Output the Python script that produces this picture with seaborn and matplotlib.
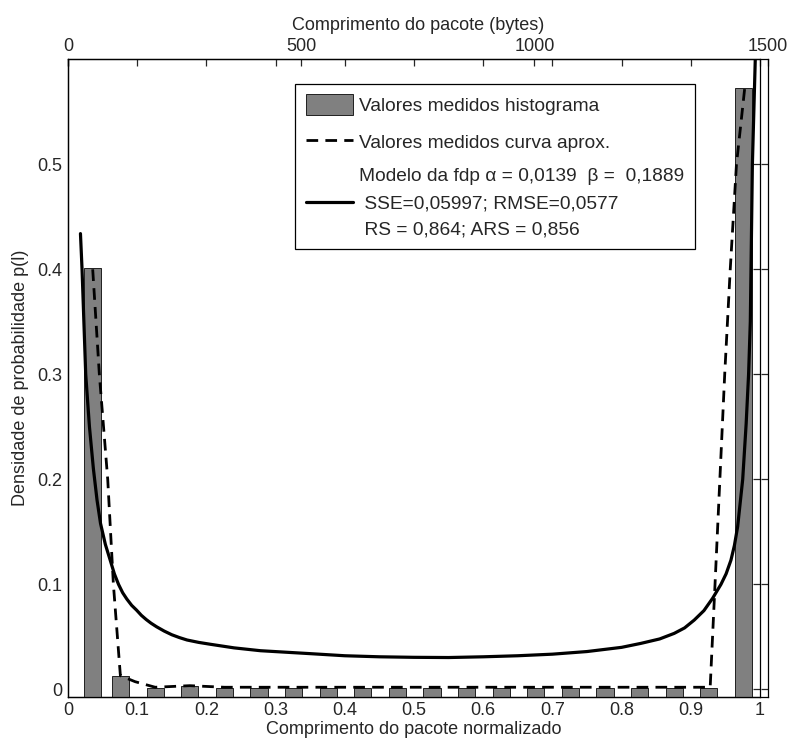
import numpy as np
import matplotlib
matplotlib.use('Agg')
import matplotlib.pyplot as plt
import seaborn as sns
from matplotlib.patches import Patch
from matplotlib.lines import Line2D

###############################################################################
# Data
###############################################################################
BAR_X = [0.035, 0.076, 0.126, 0.176, 0.226, 0.276, 0.326, 0.376, 0.426,
         0.476, 0.526, 0.576, 0.626, 0.676, 0.726, 0.776, 0.826, 0.876,
         0.926, 0.976]
BAR_H = [0.401, 0.013, 0.0015, 0.0035, 0.0015, 0.0015, 0.0015, 0.0015,
         0.0015, 0.0015, 0.0015, 0.0015, 0.0015, 0.0015, 0.0015, 0.0015,
         0.0015, 0.0015, 0.0015, 0.573]
# measured curve (dashed)
CRV_X = [0.0357, 0.0453, 0.0574, 0.0656, 0.0714, 0.0757, 0.097, 0.126,
         0.176, 0.226, 0.276, 0.326, 0.376, 0.426, 0.476, 0.526, 0.576,
         0.626, 0.676, 0.726, 0.776, 0.826, 0.876, 0.928, 0.935, 0.942,
         0.949, 0.957, 0.966, 0.978]
CRV_Y = [0.400, 0.300, 0.200, 0.100, 0.050, 0.013, 0.0073, 0.002,
         0.0035, 0.002, 0.002, 0.002, 0.002, 0.002, 0.002, 0.002, 0.002,
         0.002, 0.002, 0.002, 0.002, 0.002, 0.002, 0.002, 0.100, 0.200,
         0.300, 0.400, 0.500, 0.573]
# model pdf (solid)
MOD_X = [0.018, 0.0203, 0.0256, 0.031, 0.0367, 0.042, 0.047, 0.054, 0.061,
         0.067, 0.073, 0.079, 0.085, 0.092, 0.099, 0.106, 0.113, 0.120,
         0.128, 0.139, 0.150, 0.161, 0.172, 0.189, 0.206, 0.240,
         0.278, 0.35, 0.40, 0.45, 0.50, 0.55, 0.60, 0.65, 0.70, 0.75, 0.80,
         0.828, 0.855, 0.876, 0.891, 0.905, 0.919, 0.9315, 0.9436, 0.951,
         0.958, 0.963, 0.9677, 0.975, 0.980, 0.9835, 0.986, 0.989, 0.994]
MOD_Y = [0.434, 0.400, 0.300, 0.250, 0.210, 0.180, 0.158, 0.138, 0.123,
         0.110, 0.100, 0.092, 0.086, 0.080, 0.0755, 0.0705, 0.0665, 0.063,
         0.0596, 0.0555, 0.052, 0.0493, 0.047, 0.0447, 0.0429, 0.0395,
         0.0368, 0.034, 0.032, 0.031, 0.0305, 0.0303, 0.031, 0.032, 0.0335,
         0.036, 0.040, 0.0438, 0.048, 0.0533, 0.0585, 0.066, 0.075, 0.0867,
         0.100, 0.110, 0.123, 0.137, 0.155, 0.200, 0.253, 0.300, 0.350,
         0.500, 0.620]

X_TICKS = [0, 0.1, 0.2, 0.3, 0.4, 0.5, 0.6, 0.7, 0.8, 0.9, 1]
X_TLBL = ['0', '0.1', '0.2', '0.3', '0.4', '0.5', '0.6', '0.7', '0.8', '0.9', '1']
Y_TICKS = [0, 0.1, 0.2, 0.3, 0.4, 0.5]
Y_TLBL = ['0', '0.1', '0.2', '0.3', '0.4', '0.5']
B_TICKS = [0, 500, 1000, 1500]
LBL_HIST = 'Valores medidos histograma'
LBL_CRV = 'Valores medidos curva aprox.'
LBL_MOD = ('Modelo da fdp \u03b1 = 0,0139  \u03b2 =  0,1889\n'
           ' SSE=0,05997; RMSE=0,0577\n RS = 0,864; ARS = 0,856')
(YMIN, YMAX) = (-0.007, 0.6)
###############################################################################
# Style
###############################################################################
sns.set_style('white')
plt.rcParams['font.family'] = ['Liberation Sans', 'DejaVu Sans']
plt.rcParams['axes.linewidth'] = 0.9
FS = 13
FS_LEG = 13.8
GRAY = '#808080'
###############################################################################
# Figure
###############################################################################
fig = plt.figure(figsize=(7.9, 7.46), dpi=100)
(L, B, H) = (68 / 790, 1 - 696.7 / 746, (696.7 - 59.3) / 746)
ax2 = fig.add_axes([L, B, 699.7 / 790, H])
ax = fig.add_axes([L, B, 692 / 790, H])
ax.set_facecolor('none')
ax2.set_facecolor('white')

# bytes axis (top / right)
ax2.set_xlim(0, 1500)
ax2.set_ylim(YMIN, YMAX)
ax2.set_xticks(B_TICKS)
ax2.set_xticklabels([str(i) for i in B_TICKS])
ax2.set_yticks(Y_TICKS)
ax2.tick_params(axis='x', top=True, bottom=False, labeltop=True,
                labelbottom=False, direction='in', length=5, width=0.9,
                labelsize=FS, pad=3)
ax2.tick_params(axis='y', left=False, right=True, labelleft=False,
                labelright=False, direction='in', length=5, width=0.9)
ax2.xaxis.set_label_position('top')
ax2.set_xlabel('Comprimento do pacote (bytes)', fontsize=FS, labelpad=6)
for s in ax2.spines.values():
    s.set_color('k')

# main axis
ax.bar(BAR_X, np.array(BAR_H) - YMIN, width=0.025, bottom=YMIN,
       color=GRAY, edgecolor='#202020', linewidth=0.7, zorder=1)
sns.lineplot(x=CRV_X, y=CRV_Y, sort=False, estimator=None, color='k',
             linewidth=2.0, ax=ax, zorder=3)
sns.lineplot(x=MOD_X, y=MOD_Y, sort=False, estimator=None, color='k',
             linewidth=2.3, ax=ax, zorder=3)
ax.lines[0].set_dashes((4.2, 2.6))
ax.set_xlim(0, 1)
ax.set_ylim(YMIN, YMAX)
ax.set_xticks(X_TICKS)
ax.set_xticklabels(X_TLBL)
ax.set_yticks(Y_TICKS)
ax.set_yticklabels(Y_TLBL)
ax.tick_params(axis='both', direction='in', top=True, right=True,
               length=5, width=0.9, labelsize=FS, pad=4)
ax.set_xlabel('Comprimento do pacote normalizado', fontsize=FS, labelpad=1)
ax.set_ylabel('Densidade de probabilidade p(l)', fontsize=FS, labelpad=6)
for s in ax.spines.values():
    s.set_color('k')

handles = [
    Patch(facecolor=GRAY, edgecolor='#202020', linewidth=0.7),
    Line2D([], [], color='k', linewidth=2.0, dashes=(4.2, 2.6)),
    Line2D([], [], color='k', linewidth=2.3),
]
leg = ax.legend(handles, [LBL_HIST, LBL_CRV, LBL_MOD], loc='upper left',
                bbox_to_anchor=(0.328, 0.6945, 0.578, 0.2675), mode='expand',
                fontsize=FS_LEG, frameon=True, fancybox=False, framealpha=1,
                edgecolor='k', handlelength=2.5, handleheight=1.3,
                handletextpad=0.3, borderpad=0.55, labelspacing=0.85,
                borderaxespad=0)
leg.get_frame().set_linewidth(0.9)
leg.get_texts()[2].set_linespacing(1.74)

fig.savefig('out.png', dpi=100)
